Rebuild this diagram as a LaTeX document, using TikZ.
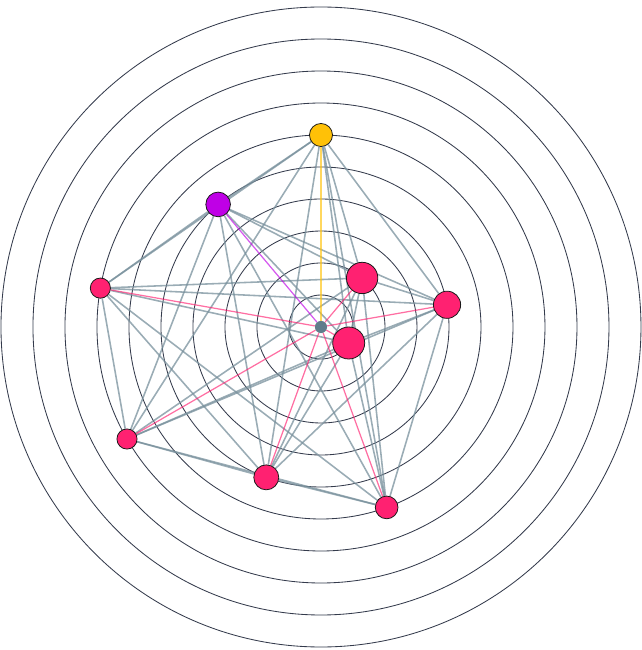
\documentclass[tikz,border=0pt]{standalone}
\usetikzlibrary{backgrounds}

\definecolor{ring}{HTML}{343B4C}
\definecolor{kante}{HTML}{78909C}
\definecolor{rosa}{HTML}{FF2171}
\definecolor{gelb}{HTML}{FFC107}
\definecolor{lila}{HTML}{BF00E6}
\definecolor{kern}{HTML}{607D8B}

\begin{document}
\begin{tikzpicture}[line cap=round,
        ringline/.style={draw=ring, line width=0.75pt},
        link/.style={draw=kante, line width=1.4pt, opacity=0.75},
        spoke/.style={line width=1.1pt, opacity=0.65},
        dot/.style={circle, draw=black!90, line width=0.7pt, inner sep=0pt}]
    \useasboundingbox (-10.031,-10.094) rectangle (10.031,10.219);

    % Knoten auf den Ringen
    \node[circle, fill=kern, minimum size=0.38cm, inner sep=0pt] (o) at (0,0) {};
    \foreach \name/\ang/\rad/\dm/\col in {a/10/4/0.85/rosa, b/50/2/0.98/rosa, y/90/6/0.72/gelb,
            p/130/5/0.77/lila, l/170/7/0.63/rosa, m/210/7/0.63/rosa, n/250/5/0.78/rosa,
            s/290/6/0.71/rosa, c/330/1/1.0/rosa}
        \node[dot, fill=\col, minimum size=\dm cm] (\name) at (\ang:\rad) {};

    \begin{pgfonlayer}{background}
        \foreach \r in {1,...,10}
            \draw[ringline] (0,0) circle (\r);
        % alle Paare
        \foreach \u [count=\i] in {a,b,y,p,l,m,n,s,c}{
            \foreach \v [count=\j] in {a,b,y,p,l,m,n,s,c}{
                \ifnum\j>\i \draw[link] (\u) -- (\v); \fi
            }
        }
        % Speichen vom Zentrum
        \foreach \name/\col in {a/rosa, b/rosa, y/gelb, p/lila, l/rosa, m/rosa, n/rosa, s/rosa, c/rosa}
            \draw[spoke, draw=\col] (o) -- (\name);
    \end{pgfonlayer}
\end{tikzpicture}
\end{document}
